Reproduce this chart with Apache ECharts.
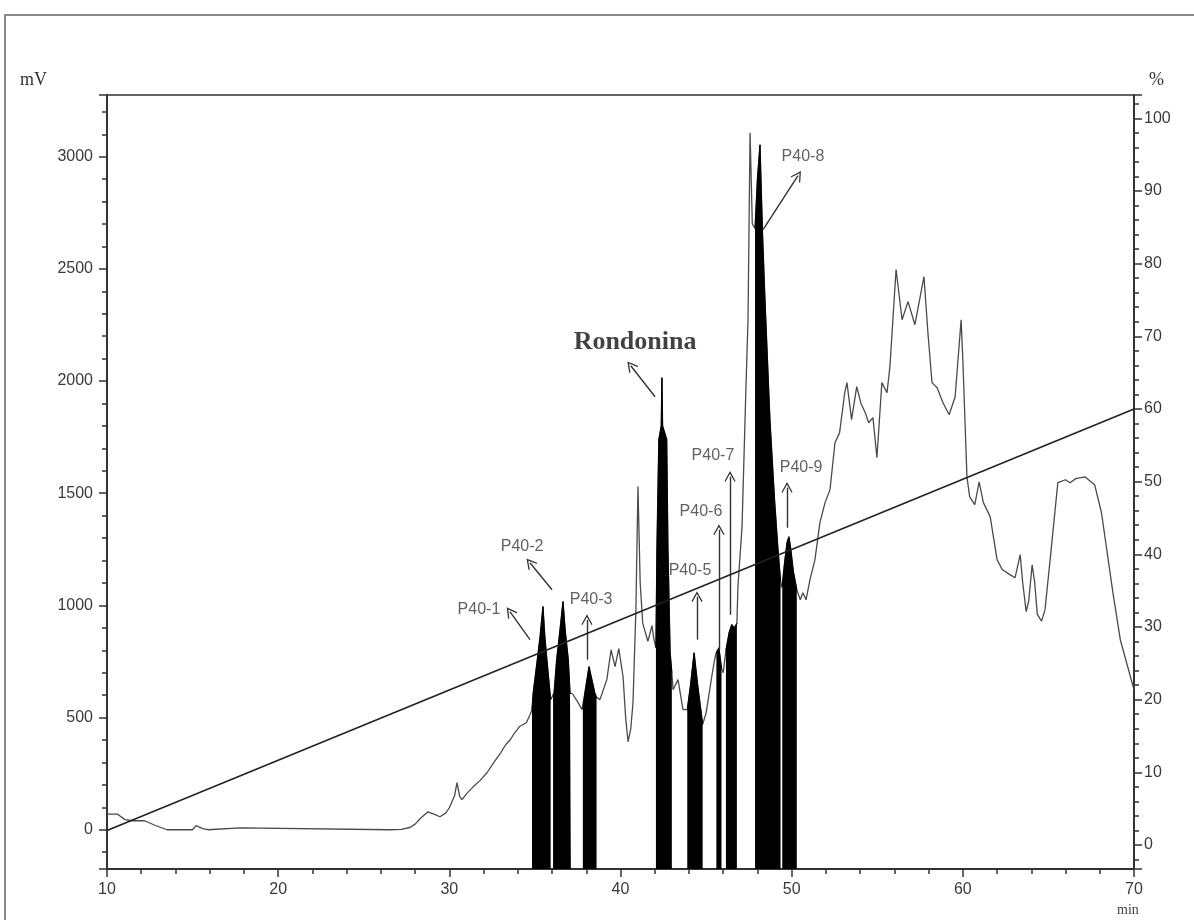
<!DOCTYPE html>
<html><head><meta charset="utf-8">
<script src="https://cdn.jsdelivr.net/npm/echarts@6/dist/echarts.min.js"></script>
<style>html,body{margin:0;padding:0;background:#fff}#c{width:1194px;height:920px}</style>
</head><body><div id="c"></div>
<script>
// Chromatogram trace: [time (min), signal (mV)]
const trace = [
[10.0,70],[10.6,70],[11.05,45],[11.5,40],[12.2,40],[12.8,20],[13.5,0],[15.0,0],[15.2,18],[15.6,5],[15.9,0],[16.0,8],[17.8,8],[17.85,0],
[26.5,0],[27.2,2],[27.7,10],[28.0,25],[28.3,50],[28.75,80],[29.1,70],[29.45,58],[29.8,75],[30.0,98],[30.3,150],[30.45,210],[30.6,150],
[30.74,134],[31.0,160],[31.4,192],[31.8,220],[32.2,254],[32.6,300],[33.0,343],[33.3,380],[33.55,400],[33.8,430],[34.1,460],[34.5,477],[34.7,510],
[34.83,535],[34.9,610],[35.14,758],[35.3,860],[35.47,995],[35.58,860],[35.7,758],[35.88,610],[35.92,580],
[36.0,585],[36.06,600],[36.12,610],[36.27,758],[36.45,880],[36.64,1017],[36.78,880],[36.95,758],[37.05,610],[37.1,605],
[37.2,605],[37.5,570],[37.75,535],[37.8,540],[37.92,610],[38.16,727],[38.5,610],[38.6,590],
[38.8,580],[39.2,669],[39.45,802],[39.68,727],[39.9,807],[40.15,682],[40.3,500],[40.44,392],[40.6,450],[40.73,566],[40.9,980],[41.02,1530],
[41.15,1100],[41.3,920],[41.45,880],[41.6,840],[41.84,910],[41.95,850],
[42.07,811],[42.13,1262],[42.24,1740],[42.38,1800],[42.42,2015],[42.46,1800],[42.7,1740],[42.77,1262],[42.9,789],[43.0,700],
[43.07,624],[43.36,669],[43.65,535],[43.9,535],[44.1,650],[44.3,789],[44.5,650],[44.8,470],
[45.0,520],[45.33,682],[45.5,760],[45.6,790],[45.75,811],[45.9,720],[46.0,700],[46.16,800],[46.35,880],[46.5,914],[46.65,900],[46.8,920],
[46.86,1083],[47.1,1350],[47.33,1975],[47.45,2273],[47.57,3107],[47.7,2700],[47.86,2680],
[48.0,2900],[48.15,3053],[48.3,2650],[48.44,2363],[48.73,1828],[49.0,1470],[49.2,1250],[49.35,1110],
[49.4,1080],[49.45,1090],[49.6,1200],[49.73,1280],[49.84,1306],[49.95,1250],[50.1,1150],[50.3,1070],
[50.5,1025],[50.66,1056],[50.84,1025],[51.07,1115],[51.36,1204],[51.65,1369],[51.95,1458],[52.24,1516],[52.53,1725],[52.8,1770],
[53.1,1948],[53.23,1993],[53.5,1828],[53.8,1975],[54.05,1900],[54.3,1859],[54.5,1814],[54.75,1837],[54.98,1658],[55.27,1993],[55.57,1948],
[55.74,2064],[56.1,2497],[56.45,2273],[56.8,2354],[57.2,2251],[57.73,2465],[57.96,2215],[58.2,1993],[58.5,1970],[58.84,1903],[59.2,1850],
[59.55,1930],[59.9,2273],[60.0,2095],[60.24,1573],[60.4,1484],[60.7,1449],[60.95,1551],[61.2,1458],[61.6,1395],[62.0,1204],[62.3,1160],
[62.75,1137],[63.05,1123],[63.35,1226],[63.5,1100],[63.7,972],[63.85,1020],[64.05,1181],[64.2,1100],[64.35,960],[64.6,930],[64.8,980],
[65.1,1204],[65.55,1547],[66.0,1560],[66.26,1547],[66.6,1565],[67.13,1573],[67.7,1538],[68.1,1413],[68.77,1056],[69.2,847],[70.0,624]
];
// Gradient (% B): [time, %]
const gradient = [[10,2],[70,60]];
// Collected fractions (filled peaks): [start, end] in minutes
const fractions = [[34.83,35.92],[36.06,37.1],[37.8,38.6],[42.07,43.0],[43.9,44.8],[45.6,45.9],[46.16,46.8],[47.86,49.35],[49.45,50.3]];
// Peak labels: [time, mV, text]
const peakLabels = [
[31.73,981,'P40-1'],[34.25,1262,'P40-2'],[38.28,1025,'P40-3'],[40.85,2175,'Rondonina'],
[44.06,1155,'P40-5'],[44.7,1418,'P40-6'],[45.4,1667,'P40-7'],[50.66,3000,'P40-8'],[50.55,1614,'P40-9']
];
// Arrows: [fromTime, fromMV, toTime, toMV]
const arrows = [
[34.71,847,33.54,972],[36.0,1070,34.71,1190],[38.04,758,38.04,936],[42.02,1930,40.6,2068],
[44.47,847,44.47,1039],[45.75,802,45.75,1337],[46.4,958,46.4,1574],[48.33,2675,50.37,2916],[49.73,1346,49.73,1525]
];
const xRange = [10,70];
const mvRange = [-175,3275];
const pctRange = [-3.3,103.2];

const axisCol = '#333';
const labelFont = {fontFamily:'Liberation Sans', fontSize:16, color:'#3a3a3a'};
const plain = v => String(v);

const fillSeries = fractions.map(f => ({
  type:'line', xAxisIndex:0, yAxisIndex:0, symbol:'none', silent:true, z:4,
  data: trace.filter(p => p[0] >= f[0] && p[0] <= f[1]),
  lineStyle:{color:'#000', width:1},
  areaStyle:{color:'#000', opacity:1, origin:'start'}
}));

const chart = echarts.init(document.getElementById('c'), null, {renderer:'canvas'});
chart.setOption({
  animation:false,
  backgroundColor:'#fff',
  grid:{left:107, right:60, top:95, bottom:51, show:true, borderColor:axisCol, borderWidth:1.5, containLabel:false, outerBoundsMode:'none'},
  xAxis:{
    type:'value', min:xRange[0], max:xRange[1], interval:10,
    axisLine:{show:true, onZero:false, lineStyle:{color:axisCol, width:2}},
    axisTick:{show:true, inside:false, length:8, lineStyle:{color:axisCol, width:1.5}},
    minorTick:{show:true, splitNumber:5, length:5, lineStyle:{color:axisCol, width:1.5}},
    splitLine:{show:false}, minorSplitLine:{show:false},
    axisLabel:Object.assign({margin:13, formatter:plain}, labelFont)
  },
  yAxis:[{
    type:'value', min:mvRange[0], max:mvRange[1], splitNumber:7, position:'left', alignTicks:false,
    axisLine:{show:true, onZero:false, lineStyle:{color:axisCol, width:2}},
    axisTick:{show:true, inside:false, length:8, lineStyle:{color:axisCol, width:1.5}},
    minorTick:{show:true, splitNumber:5, length:5, lineStyle:{color:axisCol, width:1.5}},
    splitLine:{show:false}, minorSplitLine:{show:false},
    axisLabel:Object.assign({margin:14, showMinLabel:false, showMaxLabel:false, formatter:plain}, labelFont)
  },{
    type:'value', min:pctRange[0], max:pctRange[1], splitNumber:10, position:'right', alignTicks:false,
    axisLine:{show:true, onZero:false, lineStyle:{color:axisCol, width:2}},
    axisTick:{show:true, inside:false, length:8, lineStyle:{color:axisCol, width:1.5}},
    minorTick:{show:true, splitNumber:5, length:5, lineStyle:{color:axisCol, width:1.5}},
    splitLine:{show:false}, minorSplitLine:{show:false},
    axisLabel:Object.assign({margin:10, showMinLabel:false, showMaxLabel:false, formatter:plain}, labelFont)
  }],
  graphic:[
    {type:'rect', shape:{x:5, y:15, width:1200, height:920}, style:{fill:'none', stroke:'#888', lineWidth:2}, silent:true},
    {type:'text', left:20, top:71, style:{text:'mV', font:'18px "Liberation Serif"', fill:'#333'}},
    {type:'text', left:1149, top:71, style:{text:'%', font:'18px "Liberation Serif"', fill:'#333'}},
    {type:'text', left:1117, top:903, style:{text:'min', font:'14px "Liberation Serif"', fill:'#444'}}
  ],
  series:[
    {
      type:'line', name:'signal', xAxisIndex:0, yAxisIndex:0, symbol:'none', z:3, silent:true,
      data:trace, lineStyle:{color:'#4a4a4a', width:1.3},
      markLine:{
        silent:true, animation:false, symbol:['none','path://M0,0 L7,9 L6,10 L0,2.5 L-6,10 L-7,9 Z'], symbolSize:11,
        label:{show:false}, lineStyle:{color:'#333', width:1.4, type:'solid'},
        emphasis:{disabled:true},
        data: arrows.map(a => [{coord:[a[0],a[1]]},{coord:[a[2],a[3]]}])
      }
    },
    ...fillSeries,
    {
      type:'line', name:'gradient', xAxisIndex:0, yAxisIndex:1, symbol:'none', z:5, silent:true,
      data:gradient, lineStyle:{color:'#222', width:1.6}
    },
    {
      type:'scatter', xAxisIndex:0, yAxisIndex:0, symbolSize:0, z:6, silent:true,
      data: peakLabels.map(l => {
        const item = {value:[l[0],l[1]], name:l[2]};
        if (l[2] === 'Rondonina') item.label = {fontFamily:'Liberation Serif', fontWeight:'bold', fontSize:26, color:'#111'};
        return item;
      }),
      label:{show:true, position:'inside', formatter:'{b}', fontFamily:'Liberation Sans', fontSize:16, color:'#3a3a3a'}
    }
  ]
});
</script></body></html>
